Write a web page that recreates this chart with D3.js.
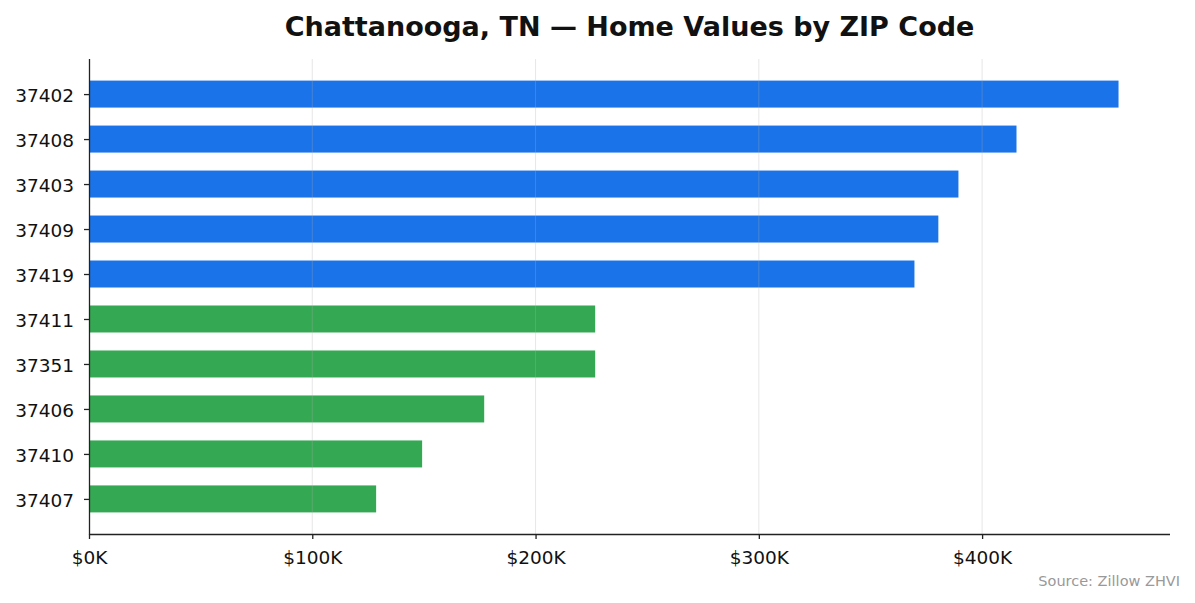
<!DOCTYPE html>
<html>
<head>
<meta charset="utf-8">
<script src="https://cdn.jsdelivr.net/npm/d3@7"></script>
<style>
  body { margin: 0; background: #fff; }
  svg { font-family: "DejaVu Sans", sans-serif; }
</style>
</head>
<body>
<div id="chart"></div>
<script>
// ZIP codes top to bottom, and their typical home value (thousands of $)
let zips = ["37402", "37408", "37403", "37409", "37419", "37411", "37351", "37406", "37410", "37407"]
let values = [461.1, 415.4, 389.4, 380.4, 369.7, 226.7, 226.7, 177.0, 149.2, 128.6]
let groups = ["high", "high", "high", "high", "high", "low", "low", "low", "low", "low"]
let xTicks = [0, 100, 200, 300, 400]

let data = zips.map((z, i) => ({ zip: z, value: values[i], group: groups[i] }))
let colors = { high: "#1a73e8", low: "#34a853" }

let W = 1195, H = 603
let margin = { top: 59, right: 25, bottom: 69, left: 89 },
  width = W - margin.left - margin.right,
  height = H - margin.top - margin.bottom

let svg = d3.select("#chart")
  .append("svg")
  .attr("width", W)
  .attr("height", H)

let g = svg.append("g")
  .attr("transform", "translate(" + margin.left + "," + margin.top + ")")

// matplotlib-like 5% padding on the x range
let xMax = d3.max(values) * 1.05
let xScale = d3.scaleLinear()
  .domain([0, xMax])
  .range([0, width])

// bars of height 0.6 with 5% padding on each end of the category axis
let n = zips.length
let yLin = d3.scaleLinear()
  .domain([-0.3 - 0.48, n - 1 + 0.3 + 0.48])
  .range([0, height])
let barH = yLin(0.6) - yLin(0)

g.selectAll(".bar")
  .data(data)
  .enter()
  .append("rect")
  .attr("class", "bar")
  .attr("x", 0)
  .attr("y", (d, i) => yLin(i - 0.3))
  .attr("width", d => xScale(d.value))
  .attr("height", barH)
  .style("fill", d => colors[d.group])

// vertical grid lines, drawn over the bars
g.append("g")
  .selectAll("line")
  .data(xTicks.slice(1))
  .enter()
  .append("line")
  .attr("x1", d => xScale(d))
  .attr("x2", d => xScale(d))
  .attr("y1", 0)
  .attr("y2", height)
  .attr("stroke", "#b0b0b0")
  .attr("stroke-opacity", 0.3)
  .attr("stroke-width", 1)

// x axis
let xAxis = d3.axisBottom(xScale)
  .tickValues(xTicks)
  .tickFormat(d => "$" + d + "K")
  .tickSize(5)
  .tickPadding(12)
let xg = g.append("g")
  .attr("transform", "translate(0," + height + ")")
  .call(xAxis)
xg.select(".domain").attr("d", "M0.5,0.5H" + width)

// y axis
let yAxis = d3.axisLeft(d3.scaleOrdinal().domain(zips).range(zips.map((z, i) => yLin(i))))
  .tickSize(5)
  .tickPadding(10)
let yg = g.append("g")
  .call(yAxis)
yg.select(".domain").attr("d", "M0.5,0V" + (height + 0.5))
yg.selectAll(".tick text").attr("dy", "0.4em")

svg.selectAll(".domain").attr("stroke", "#222").attr("stroke-width", 1.3)
svg.selectAll(".tick line").attr("stroke", "#222").attr("stroke-width", 1.3)
svg.selectAll(".tick text")
  .style("font-family", "DejaVu Sans, sans-serif")
  .style("font-size", "18.5px")
  .attr("fill", "#111")

// title
svg.append("text")
  .attr("x", margin.left + width / 2)
  .attr("y", 36)
  .attr("text-anchor", "middle")
  .style("font-size", "27px")
  .style("font-weight", "bold")
  .attr("fill", "#111")
  .text("Chattanooga, TN — Home Values by ZIP Code")

// source note
svg.append("text")
  .attr("x", 1180)
  .attr("y", 586)
  .attr("text-anchor", "end")
  .style("font-size", "14.5px")
  .attr("fill", "#999")
  .text("Source: Zillow ZHVI")
</script>
</body>
</html>
